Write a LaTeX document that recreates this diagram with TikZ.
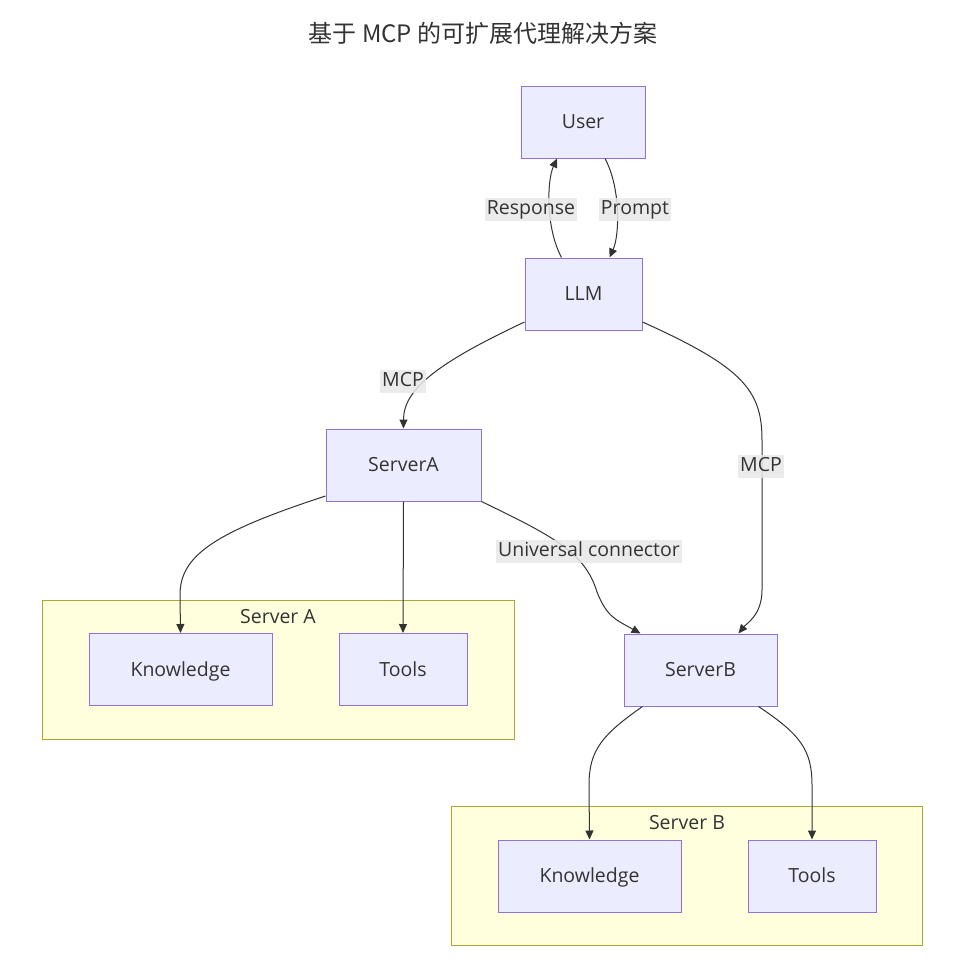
\documentclass[tikz,border=0pt]{standalone}
\usepackage{fontspec}
\setmainfont{Open Sans}
\newfontfamily\cjk{Noto Sans CJK SC}
\usetikzlibrary{arrows.meta,calc}
\definecolor{nodefill}{HTML}{ECECFF}
\definecolor{nodeline}{HTML}{9370DB}
\definecolor{grpfill}{HTML}{FFFFDE}
\definecolor{grpline}{HTML}{AAAA33}
\definecolor{txt}{HTML}{333333}
\definecolor{lblbg}{HTML}{E8E8E8}
\tikzset{
  box/.style={draw=nodeline, fill=nodefill, line width=1pt, minimum height=72pt, text=txt, font=\fontsize{19.5}{22}\selectfont, inner sep=0pt, text height=15.5pt, text depth=2.5pt},
  grp/.style={draw=grpline, fill=grpfill, line width=1pt},
  grplabel/.style={text=txt, font=\fontsize{19.5}{22}\selectfont},
  lbl/.style={fill=lblbg, fill opacity=0.85, text opacity=1, text=txt, font=\fontsize{19.5}{22}\selectfont, inner sep=2pt, text height=14pt, text depth=5pt},
  edge/.style={draw=txt, line width=1pt, -{Triangle[length=9pt,width=8pt]}},
}
\begin{document}
\begin{tikzpicture}[x=1pt,y=-1pt]
\useasboundingbox (0,0) rectangle (975,967);
\fill[white] (0,0) rectangle (975,967);
\node[text=txt, font=\cjk\fontsize{24}{28}\selectfont] (title) at (483,33) {基于 MCP 的可扩展代理解决方案};
% groups
\draw[grp] (42,600) rectangle (514,739);
\node[grplabel] (glA) at (278,617) {Server A};
\draw[grp] (451,806) rectangle (922,945);
\node[grplabel] (glB) at (687,823) {Server B};
% nodes
\node[box, minimum width=124pt] (user) at (583,122) {User};
\node[box, minimum width=117pt] (llm) at (583.5,294) {LLM};
\node[box, minimum width=155pt] (sa) at (403.5,465) {ServerA};
\node[box, minimum width=153pt] (sb) at (700.5,670) {ServerB};
\node[box, minimum width=183pt] (ka) at (180.5,669.5) {Knowledge};
\node[box, minimum width=128pt] (ta) at (403,669.5) {Tools};
\node[box, minimum width=183pt] (kb) at (589.5,876) {Knowledge};
\node[box, minimum width=128pt] (tb) at (812,876) {Tools};
% edges
\draw[edge] ($(llm.north)+(-22,0)$) .. controls +(-16,-30) and +(-10,22) .. ($(user.south)+(-26,0)$);
\draw[edge] ($(user.south)+(22,0)$) .. controls +(16,30) and +(10,-22) .. ($(llm.north)+(26,0)$);
\node[lbl] (lresp) at (531,209.5) {Response};
\node[lbl] (lprompt) at (635,209.5) {Prompt};
\draw[edge] ($(llm.west)+(0,28)$) .. controls +(-85,40) and +(0,-40) .. (sa.north);
\node[lbl] (lmcp1) at (403,381.5) {MCP};
\draw[edge] ($(llm.east)+(0,28)$) .. controls +(100,45) and +(0,-50) .. (762,440) -- (762,590) .. controls +(0,25) and +(8,-10) .. ($(sb.north)+(38,0)$);
\node[lbl] (lmcp2) at (761,466.5) {MCP};
\draw[edge] (sa.south east) .. controls +(70,34) and +(-12,-40) .. (597,592) .. controls +(10,25) and +(-25,-14) .. ($(sb.north)+(-60,0)$);
\node[lbl] (luc) at (589,551.5) {Universal connector};
\draw[edge] ($(sa.west)+(0,31)$) .. controls +(-110,36) and +(0,-40) .. (180,595) -- (ka.north);
\draw[edge] (sa.south) -- (ta.north);
\draw[edge] ($(sb.south)+(-58,0)$) .. controls +(-40,28) and +(0,-35) .. (589,785) -- (kb.north);
\draw[edge] ($(sb.south)+(58,0)$) .. controls +(42,28) and +(0,-35) .. (812,785) -- (tb.north);
\end{tikzpicture}
\end{document}
